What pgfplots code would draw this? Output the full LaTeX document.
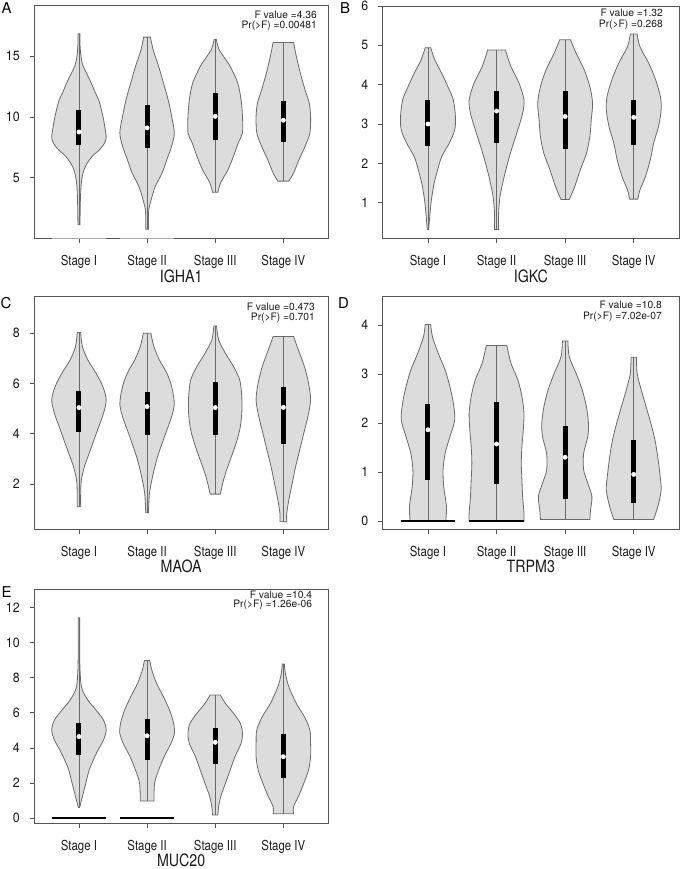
\documentclass[border=0pt]{standalone}
\usepackage{pgfplots}
\pgfplotsset{compat=1.18}
\usepackage{pgfplotstable}
\usepgfplotslibrary{fillbetween}
\usepackage{fontspec}
\setmainfont{TeX Gyre Heros}
\definecolor{vfill}{HTML}{DCDCDC}
\definecolor{vline}{HTML}{6A6A6A}
\definecolor{boxc}{HTML}{555555}
\definecolor{txt}{HTML}{1A1A1A}

% ---- Panel A (IGHA1)
\pgfplotstableread[row sep=\\]{y w\\ 1.15 0.015\\ 3.0 0.02\\ 4.3 0.03\\ 5.0 0.045\\ 5.6 0.07\\ 6.2 0.12\\ 6.8 0.2\\ 7.3 0.3\\ 7.8 0.37\\ 8.3 0.40\\ 8.8 0.39\\ 9.5 0.37\\ 10.1 0.35\\ 10.8 0.32\\ 11.4 0.29\\ 12.0 0.24\\ 12.8 0.18\\ 13.5 0.12\\ 14.2 0.06\\ 14.8 0.035\\ 15.2 0.025\\ 16.0 0.015\\ 16.83 0.015\\}\tAa
\pgfplotstableread[row sep=\\]{y w\\ 0.77 0.02\\ 1.5 0.02\\ 2.4 0.025\\ 3.2 0.06\\ 4.3 0.12\\ 5.4 0.22\\ 6.5 0.29\\ 7.6 0.36\\ 8.7 0.40\\ 10.05 0.36\\ 11.4 0.31\\ 12.8 0.24\\ 14.15 0.17\\ 15.5 0.09\\ 16.56 0.05\\}\tAb
\pgfplotstableread[row sep=\\]{y w\\ 3.82 0.04\\ 4.6 0.08\\ 5.7 0.19\\ 6.8 0.27\\ 7.9 0.34\\ 8.7 0.40\\ 10.05 0.40\\ 11.4 0.38\\ 12.8 0.33\\ 14.15 0.22\\ 15.0 0.12\\ 15.5 0.06\\ 16.0 0.03\\ 16.39 0.015\\}\tAc
\pgfplotstableread[row sep=\\]{y w\\ 4.73 0.08\\ 5.4 0.15\\ 6.5 0.23\\ 7.6 0.32\\ 8.7 0.39\\ 10.05 0.40\\ 11.15 0.38\\ 12.2 0.32\\ 13.6 0.25\\ 15.0 0.19\\ 16.12 0.15\\}\tAd
% ---- Panel B (IGKC)
\pgfplotstableread[row sep=\\]{y w\\ 0.31 0.01\\ 0.64 0.025\\ 1.07 0.05\\ 1.49 0.09\\ 1.83 0.14\\ 2.17 0.20\\ 2.51 0.31\\ 2.85 0.39\\ 3.19 0.40\\ 3.61 0.37\\ 3.95 0.29\\ 4.29 0.20\\ 4.63 0.10\\ 4.94 0.04\\}\tBa
\pgfplotstableread[row sep=\\]{y w\\ 0.32 0.03\\ 0.73 0.03\\ 1.15 0.05\\ 1.58 0.10\\ 2.0 0.16\\ 2.42 0.23\\ 2.85 0.31\\ 3.27 0.38\\ 3.61 0.40\\ 4.03 0.33\\ 4.46 0.21\\ 4.88 0.13\\}\tBb
\pgfplotstableread[row sep=\\]{y w\\ 1.08 0.06\\ 1.41 0.14\\ 1.83 0.22\\ 2.25 0.31\\ 2.68 0.36\\ 3.1 0.38\\ 3.53 0.40\\ 3.95 0.36\\ 4.37 0.28\\ 4.8 0.16\\ 5.14 0.08\\}\tBc
\pgfplotstableread[row sep=\\]{y w\\ 1.09 0.06\\ 1.32 0.09\\ 1.66 0.17\\ 2.08 0.24\\ 2.51 0.29\\ 2.93 0.36\\ 3.36 0.40\\ 3.69 0.39\\ 4.12 0.32\\ 4.54 0.22\\ 4.97 0.09\\ 5.29 0.05\\}\tBd
% ---- Panel C (MAOA)
\pgfplotstableread[row sep=\\]{y w\\ 1.10 0.025\\ 1.63 0.025\\ 2.16 0.035\\ 2.69 0.08\\ 3.22 0.15\\ 3.75 0.22\\ 4.28 0.29\\ 4.81 0.36\\ 5.35 0.40\\ 5.88 0.35\\ 6.41 0.25\\ 6.94 0.13\\ 7.47 0.05\\ 8.03 0.025\\}\tCa
\pgfplotstableread[row sep=\\]{y w\\ 0.86 0.02\\ 1.63 0.035\\ 2.29 0.08\\ 2.96 0.14\\ 3.62 0.22\\ 4.15 0.29\\ 4.68 0.36\\ 5.21 0.40\\ 5.88 0.36\\ 6.41 0.29\\ 6.94 0.18\\ 7.47 0.10\\ 8.0 0.055\\}\tCb
\pgfplotstableread[row sep=\\]{y w\\ 1.6 0.075\\ 2.03 0.11\\ 2.42 0.15\\ 2.96 0.22\\ 3.49 0.29\\ 4.15 0.36\\ 4.81 0.39\\ 5.48 0.39\\ 6.14 0.36\\ 6.67 0.27\\ 7.2 0.15\\ 7.73 0.05\\ 8.29 0.02\\}\tCc
\pgfplotstableread[row sep=\\]{y w\\ 0.5 0.05\\ 0.83 0.05\\ 1.36 0.08\\ 2.03 0.13\\ 2.69 0.18\\ 3.35 0.24\\ 4.02 0.30\\ 4.68 0.36\\ 5.35 0.40\\ 6.01 0.37\\ 6.67 0.31\\ 7.34 0.22\\ 7.87 0.15\\}\tCd
% ---- Panel D (TRPM3)
\pgfplotstableread[row sep=\\]{y w\\ 0.0 0.26\\ 0.29 0.27\\ 0.70 0.23\\ 1.04 0.22\\ 1.38 0.25\\ 1.72 0.32\\ 2.06 0.39\\ 2.40 0.37\\ 2.74 0.32\\ 3.08 0.25\\ 3.42 0.15\\ 3.76 0.065\\ 4.01 0.04\\}\tDa
\pgfplotstableread[row sep=\\]{y w\\ 0.0 0.40\\ 0.16 0.40\\ 0.50 0.38\\ 0.84 0.37\\ 1.18 0.36\\ 1.52 0.37\\ 1.86 0.39\\ 2.2 0.40\\ 2.54 0.37\\ 2.88 0.31\\ 3.22 0.21\\ 3.58 0.15\\}\tDb
\pgfplotstableread[row sep=\\]{y w\\ 0.03 0.36\\ 0.22 0.37\\ 0.50 0.39\\ 0.77 0.33\\ 1.04 0.27\\ 1.38 0.27\\ 1.72 0.33\\ 1.99 0.34\\ 2.33 0.31\\ 2.67 0.25\\ 3.01 0.16\\ 3.35 0.06\\ 3.67 0.04\\}\tDc
\pgfplotstableread[row sep=\\]{y w\\ 0.03 0.29\\ 0.29 0.35\\ 0.63 0.40\\ 0.97 0.38\\ 1.31 0.35\\ 1.65 0.31\\ 1.99 0.25\\ 2.33 0.18\\ 2.67 0.11\\ 3.01 0.05\\ 3.34 0.04\\}\tDd
% ---- Panel E (MUC20)
\pgfplotstableread[row sep=\\]{y w\\ 0.61 0.01\\ 1.22 0.05\\ 1.98 0.10\\ 2.74 0.15\\ 3.31 0.21\\ 3.88 0.28\\ 4.45 0.36\\ 5.02 0.40\\ 5.59 0.36\\ 6.16 0.25\\ 6.73 0.13\\ 7.3 0.05\\ 7.8 0.025\\ 8.1 0.02\\ 9.0 0.012\\ 11.43 0.01\\}\tEa
\pgfplotstableread[row sep=\\]{y w\\ 0.97 0.10\\ 1.98 0.11\\ 2.74 0.17\\ 3.5 0.25\\ 4.26 0.35\\ 4.83 0.40\\ 5.4 0.39\\ 6.16 0.33\\ 6.92 0.24\\ 7.68 0.14\\ 8.44 0.07\\ 8.98 0.04\\}\tEb
\pgfplotstableread[row sep=\\]{y w\\ 0.17 0.04\\ 0.65 0.05\\ 1.22 0.08\\ 1.98 0.15\\ 2.74 0.22\\ 3.5 0.29\\ 4.26 0.38\\ 4.83 0.40\\ 5.4 0.37\\ 5.97 0.27\\ 6.54 0.15\\ 7.02 0.075\\}\tEc
\pgfplotstableread[row sep=\\]{y w\\ 0.25 0.15\\ 0.65 0.15\\ 1.22 0.22\\ 1.98 0.30\\ 2.74 0.37\\ 3.5 0.40\\ 4.26 0.40\\ 5.02 0.39\\ 5.78 0.31\\ 6.54 0.19\\ 7.49 0.08\\ 8.25 0.03\\ 8.79 0.015\\}\tEd

% #1 id, #2 centre, #3 table, #4 min, #5 max, #6 q1, #7 q3, #8 median
\newcommand{\violin}[8]{%
 \addplot[name path=vR#1, draw=none, smooth] table[x expr=#2+\thisrow{w}, y=y] {#3};
 \addplot[name path=vL#1, draw=none, smooth] table[x expr=#2-\thisrow{w}, y=y] {#3};
 \addplot[fill=vfill, draw=vline, line width=0.8bp] fill between[of=vR#1 and vL#1, reverse=true];
 \addplot[vline, line width=0.7bp] coordinates {(#2,#4) (#2,#5)};
 \addplot[black, line width=5bp] coordinates {(#2,#6) (#2,#7)};
 \addplot[only marks, mark=*, mark size=2.2bp, draw=white, fill=white] coordinates {(#2,#8)};
}
\newcommand{\ftext}[5]{%
 \node[anchor=base east, inner sep=0pt, font=\fontsize{10.3}{12}\selectfont, text=txt, xshift=-#1bp, yshift=-#2bp] at (rel axis cs:1,1) {#4};
 \node[anchor=base east, inner sep=0pt, font=\fontsize{10.3}{12}\selectfont, text=txt, xshift=-#1bp, yshift=-#3bp] at (rel axis cs:1,1) {#5};
}

\pgfplotsset{
 vstyle/.style={
  scale only axis,
  xmin=0.34, xmax=4.66,
  axis line style={boxc, line width=0.8bp},
  every tick/.style={boxc, line width=0.8bp},
  tick align=outside, major tick length=4.5bp,
  xtick pos=bottom, ytick pos=left,
  xtick={1,2,3,4}, xticklabels={Stage I,Stage II,Stage III,Stage IV},
  xticklabel style={font=\fontsize{13.8}{15}\selectfont, xscale=0.83, text=txt, anchor=base, inner sep=0pt, yshift=-22.3bp},
  yticklabel style={font=\fontsize{13.5}{15}\selectfont, xscale=0.92, text=txt, anchor=east, inner sep=0pt, xshift=-10.5bp},
  /pgf/number format/assume math mode=true,
  every axis x label/.style={at={(rel axis cs:0.5,0)}, anchor=base, yshift=-43.5bp, font=\fontsize{17}{19}\selectfont, xscale=0.84, text=txt},
 }
}

\begin{document}
\begin{tikzpicture}

% Panel letters
\node[anchor=base west, inner sep=0pt, font=\fontsize{15}{17}\selectfont] at (1.5bp,-13.5bp) {A};
\node[anchor=base west, inner sep=0pt, font=\fontsize{15}{17}\selectfont] at (340bp,-13.5bp) {B};
\node[anchor=base west, inner sep=0pt, font=\fontsize{15}{17}\selectfont] at (0.5bp,-308.5bp) {C};
\node[anchor=base west, inner sep=0pt, font=\fontsize{15}{17}\selectfont] at (338bp,-308.5bp) {D};
\node[anchor=base west, inner sep=0pt, font=\fontsize{15}{17}\selectfont] at (1.5bp,-597bp) {E};

% ---------------- A
\begin{axis}[vstyle, at={(34bp,-5bp)}, anchor=north west, width=294.3bp, height=233.7bp,
  ymin=0, ymax=19.2, ytick={5,10,15}, xlabel={IGHA1}]
\violin{a1}{1}{\tAa}{1.15}{16.83}{7.68}{10.6}{8.77}
\violin{a2}{2}{\tAb}{0.77}{16.56}{7.49}{10.98}{9.1}
\violin{a3}{3}{\tAc}{3.82}{16.39}{8.09}{11.94}{10.05}
\violin{a4}{4}{\tAd}{4.73}{16.12}{7.95}{11.28}{9.73}
\addplot[gray!70, line width=2bp] coordinates {(0.6,0) (1.4,0)};
\addplot[gray!70, line width=2bp] coordinates {(1.6,0) (2.4,0)};
\ftext{11.3}{13}{23.5}{F value =4.36}{Pr(>F) =0.00481}
\end{axis}

% ---------------- B
\begin{axis}[vstyle, at={(382.7bp,-6bp)}, anchor=north west, width=296.3bp, height=232.7bp,
  ymin=0.084, ymax=6.0, ytick={1,2,3,4,5,6}, xlabel={IGKC}]
\violin{b1}{1}{\tBa}{0.31}{4.94}{2.45}{3.61}{3.0}
\violin{b2}{2}{\tBb}{0.32}{4.88}{2.51}{3.85}{3.33}
\violin{b3}{3}{\tBc}{1.08}{5.14}{2.36}{3.83}{3.19}
\violin{b4}{4}{\tBd}{1.09}{5.29}{2.47}{3.61}{3.17}
\ftext{16}{10.5}{21}{F value =1.32}{Pr(>F) =0.268}
\end{axis}

% ---------------- C
\begin{axis}[vstyle, at={(34bp,-296bp)}, anchor=north west, width=294.3bp, height=233.3bp,
  ymin=0.2, ymax=9.48, ytick={2,4,6,8}, xlabel={MAOA}]
\violin{c1}{1}{\tCa}{1.10}{8.03}{4.08}{5.70}{5.04}
\violin{c2}{2}{\tCb}{0.86}{8.0}{3.94}{5.65}{5.08}
\violin{c3}{3}{\tCc}{1.6}{8.29}{3.95}{6.07}{5.04}
\violin{c4}{4}{\tCd}{0.5}{7.87}{3.59}{5.85}{5.05}
\ftext{13.3}{14}{24}{F value =0.473}{Pr(>F) =0.701}
\end{axis}

% ---------------- D
\begin{axis}[vstyle, at={(382.7bp,-296bp)}, anchor=north west, width=296.3bp, height=233.3bp,
  ymin=-0.17, ymax=4.59, ytick={0,1,2,3,4}, xlabel={TRPM3}]
\violin{d1}{1}{\tDa}{0.0}{4.01}{0.84}{2.39}{1.86}
\violin{d2}{2}{\tDb}{0.0}{3.58}{0.76}{2.43}{1.57}
\violin{d3}{3}{\tDc}{0.03}{3.67}{0.44}{1.93}{1.30}
\violin{d4}{4}{\tDd}{0.03}{3.34}{0.37}{1.65}{0.95}
\addplot[black, line width=2.5bp] coordinates {(0.6,0) (1.4,0)};
\addplot[black, line width=2.5bp] coordinates {(1.6,0) (2.4,0)};
\ftext{17}{12}{23}{F value =10.8}{Pr(>F) =7.02e-07}
\end{axis}

% ---------------- E
\begin{axis}[vstyle, at={(34bp,-589.3bp)}, anchor=north west, width=294.3bp, height=234bp,
  ymin=-0.30, ymax=13.05, ytick={0,2,4,6,8,10,12}, xlabel={MUC20}]
\violin{e1}{1}{\tEa}{0.61}{11.43}{3.6}{5.45}{4.65}
\violin{e2}{2}{\tEb}{0.97}{8.98}{3.31}{5.64}{4.69}
\violin{e3}{3}{\tEc}{0.17}{7.02}{3.09}{5.16}{4.32}
\violin{e4}{4}{\tEd}{0.25}{8.79}{2.27}{4.8}{3.5}
\addplot[black, line width=2.5bp] coordinates {(0.6,0) (1.4,0)};
\addplot[black, line width=2.5bp] coordinates {(1.6,0) (2.4,0)};
\ftext{16}{9}{18.5}{F value =10.4}{Pr(>F) =1.26e-06}
\end{axis}

\pgfresetboundingbox
\path[use as bounding box] (0bp,0bp) rectangle (682bp,-869bp);
\end{tikzpicture}
\end{document}
